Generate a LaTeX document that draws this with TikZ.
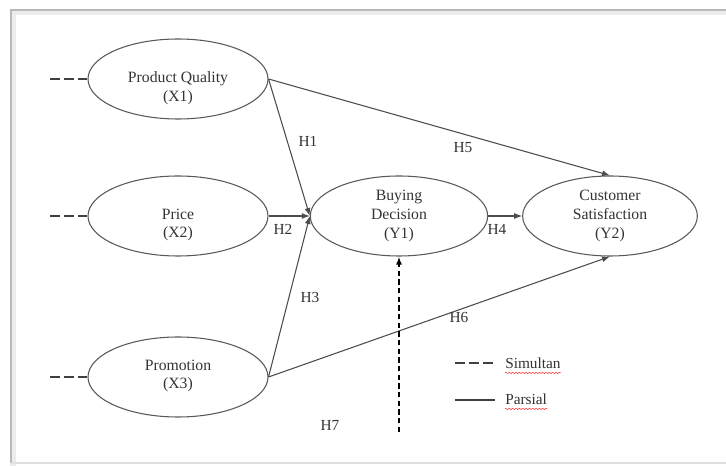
\documentclass[tikz,border=0pt]{standalone}
\usepackage{fontspec}
\setmainfont{Liberation Serif}
\usetikzlibrary{arrows.meta,shapes.geometric,decorations.pathmorphing}
\begin{document}
\begin{tikzpicture}[
    x=0.75pt, y=-0.75pt,
    latent/.style={draw=black!65, line width=0.8pt, ellipse, minimum width=135pt, minimum height=60pt, inner sep=0pt},
    txt/.style={align=center, text=black!80, font=\fontsize{11.8}{14}\selectfont, inner sep=0pt},
    hyp/.style={text=black!80, font=\fontsize{11.5}{14}\selectfont, inner sep=0pt},
    path/.style={draw=black!70, line width=0.8pt, -{Latex[length=6pt,width=4.5pt]}},
    stub/.style={draw=black!75, line width=0.9pt, dash pattern=on 7.5pt off 3pt},
    simul/.style={draw=black, line width=1.4pt, dash pattern=on 4pt off 2.5pt, -{Latex[length=6pt,width=4.5pt]}},
    frame/.style={draw=gray!55, line width=1.2pt},
    squiggle/.style={draw=red!80, line width=0.4pt, decorate, decoration={snake, amplitude=0.5pt, segment length=2.5pt}}
]
    \useasboundingbox (0,0) rectangle (726,466);

    % Define coordinates
    \def\xL{178}
    \def\yA{79}
    \def\yB{216}
    \def\yC{377}

    % Frame
    \draw[draw=gray!15, line width=4pt] (13,466) -- (13,12) -- (726,12);
    \draw[frame] (11,463) -- (11,10) -- (726,10);
    \draw[draw=gray!25, line width=1.5pt] (11,463) -- (726,463);

    % Constructs
    \node[latent] (x1) at (\xL,\yA) {};
    \node[latent] (x2) at (\xL,\yB) {};
    \node[latent] (x3) at (\xL,\yC) {};
    \node[latent, minimum width=133pt] (y1) at (399,\yB) {};
    \node[latent, minimum width=131pt] (y2) at (610,\yB) {};

    % Labels
    \node[txt] (x1t) at (\xL,\yA+9) {Product Quality\\(X1)};
    \node[txt] (x2t) at (\xL,\yB+9) {Price\\(X2)};
    \node[txt] (x3t) at (\xL,\yC-1) {Promotion\\(X3)};
    \node[txt] (y1t) at (399,\yB) {Buying\\Decision\\(Y1)};
    \node[txt] (y2t) at (610,\yB) {Customer\\Satisfaction\\(Y2)};

    % Dashed stubs on the left
    \foreach \n/\y in {x1/\yA, x2/\yB, x3/\yC} {
        \coordinate (\n s) at (50,\y);
        \draw[stub] (\n s) -- (\n.west);
    }

    % Paths
    \draw[path] (x1.east) -- (y1.west);
    \draw[path] (x2.east) -- (y1.west);
    \draw[path] (x3.east) -- (y1.west);
    \draw[path] (y1.east) -- (y2.west);
    \draw[path] (x1.east) -- (y2.north);
    \draw[path] (x3.east) -- (y2.south);

    % Simultaneous effect
    \coordinate (h7s) at (399,432);
    \draw[simul] (h7s) -- (y1.south);

    % Hypotheses
    \node[hyp] (h1) at (308,141) {H1};
    \node[hyp] (h2) at (283,229) {H2};
    \node[hyp] (h3) at (310,298) {H3};
    \node[hyp] (h4) at (497,229) {H4};
    \node[hyp] (h5) at (463,148) {H5};
    \node[hyp] (h6) at (459,318) {H6};
    \node[hyp] (h7) at (330,425) {H7};

    % Legend
    \coordinate (l1a) at (455,363);
    \coordinate (l1b) at (495,363);
    \coordinate (l2a) at (455,400);
    \coordinate (l2b) at (495,400);
    \draw[stub, line width=1pt] (l1a) -- (l1b);
    \draw[draw=black!75, line width=1pt] (l2a) -- (l2b);
    \node[hyp, anchor=west] (sim) at (505,363) {Simultan};
    \node[hyp, anchor=west] (par) at (505,399) {Parsial};
    \draw[squiggle] ([yshift=-3.5pt]sim.base west) -- ([yshift=-3.5pt]sim.base east);
    \draw[squiggle] ([yshift=-3.5pt]par.base west) -- ([yshift=-3.5pt]par.base east);

\end{tikzpicture}
\end{document}
